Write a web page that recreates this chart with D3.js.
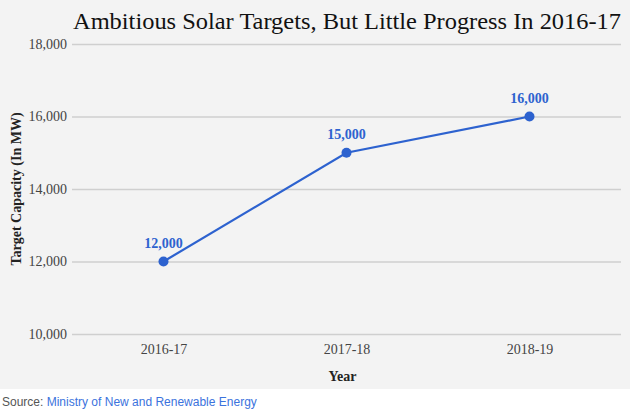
<!DOCTYPE html>
<html><head><meta charset="utf-8">
<script src="https://cdn.jsdelivr.net/npm/d3@7"></script>
<style>
html,body{margin:0;padding:0;background:#fff;}
svg{display:block;}
</style></head>
<body>
<svg id="chart" width="630" height="418"></svg>
<script>
const years = ["2016-17", "2017-18", "2018-19"];
const targets = [12000, 15000, 16000];
const yTicks = [10000, 12000, 14000, 16000, 18000];
const title = "Ambitious Solar Targets, But Little Progress In 2016-17";

const svg = d3.select("#chart");
const W = 630, H = 418;
const serif = "'Liberation Serif', 'DejaVu Serif', serif";
const mLeft = 72, mRight = 621, mTop = 44, mBottom = 334;

svg.append("rect").attr("x",0).attr("y",0).attr("width",W).attr("height",389).attr("fill","#f3f3f3");

svg.append("text").attr("x", mRight).attr("y", 29).attr("text-anchor", "end")
  .attr("font-family", serif).attr("font-size", 24).attr("fill", "#111")
  .attr("textLength", 548).attr("lengthAdjust", "spacingAndGlyphs")
  .text(title);

const x = d3.scalePoint().domain(years).range([mLeft, mRight]).padding(0.5);
const y = d3.scaleLinear().domain([10000, 18000]).range([mBottom, mTop]);

const yAxis = d3.axisLeft(y).tickValues(yTicks).tickSize(-(mRight-mLeft)).tickPadding(5).tickFormat(d3.format(","));
const gy = svg.append("g").attr("transform", `translate(${mLeft},0)`).call(yAxis);
gy.select(".domain").remove();
gy.selectAll(".tick line").attr("stroke", "#cfcfcf").attr("stroke-width", 1.5);
gy.selectAll(".tick text").attr("font-family", serif).attr("font-size", 14).attr("fill", "#444");

const xAxis = d3.axisBottom(x).tickSize(0).tickPadding(10);
const gx = svg.append("g").attr("transform", `translate(0,${mBottom})`).call(xAxis);
gx.select(".domain").remove();
gx.selectAll(".tick text").attr("font-family", serif).attr("font-size", 14).attr("fill", "#444");

svg.append("text").attr("x", (mLeft+mRight)/2 - 4).attr("y", 381).attr("text-anchor","middle")
  .attr("font-family", serif).attr("font-size", 14).attr("font-weight","bold").attr("fill","#222").text("Year");

svg.append("text").attr("transform", `translate(21,${(mTop+mBottom)/2}) rotate(-90)`).attr("text-anchor","middle")
  .attr("font-family", serif).attr("font-size", 14).attr("font-weight","bold").attr("fill","#222").text("Target Capacity (In MW)");

const data = years.map((yr,i)=>({yr, v: targets[i]}));
const color = "#2d62cf";
svg.append("path").datum(data)
  .attr("d", d3.line().x(d=>x(d.yr)).y(d=>y(d.v)))
  .attr("fill","none").attr("stroke", color).attr("stroke-width", 2.2);
svg.selectAll("circle.pt").data(data).join("circle").attr("class","pt")
  .attr("cx", d=>x(d.yr)).attr("cy", d=>y(d.v)).attr("r", 5).attr("fill", color);
svg.selectAll("text.lbl").data(data).join("text").attr("class","lbl")
  .attr("x", d=>x(d.yr)).attr("y", d=>y(d.v)-14).attr("text-anchor","middle")
  .attr("font-family", serif).attr("font-size", 14).attr("font-weight","bold").attr("fill", color)
  .text(d=>d3.format(",")(d.v));

const src = svg.append("text").attr("x", 2).attr("y", 406)
  .attr("font-family", "'Liberation Sans', Arial, sans-serif").attr("font-size", 12);
src.append("tspan").attr("fill","#555").text("Source: ");
src.append("tspan").attr("fill","#3b73dd").text("Ministry of New and Renewable Energy");
</script>
</body></html>
